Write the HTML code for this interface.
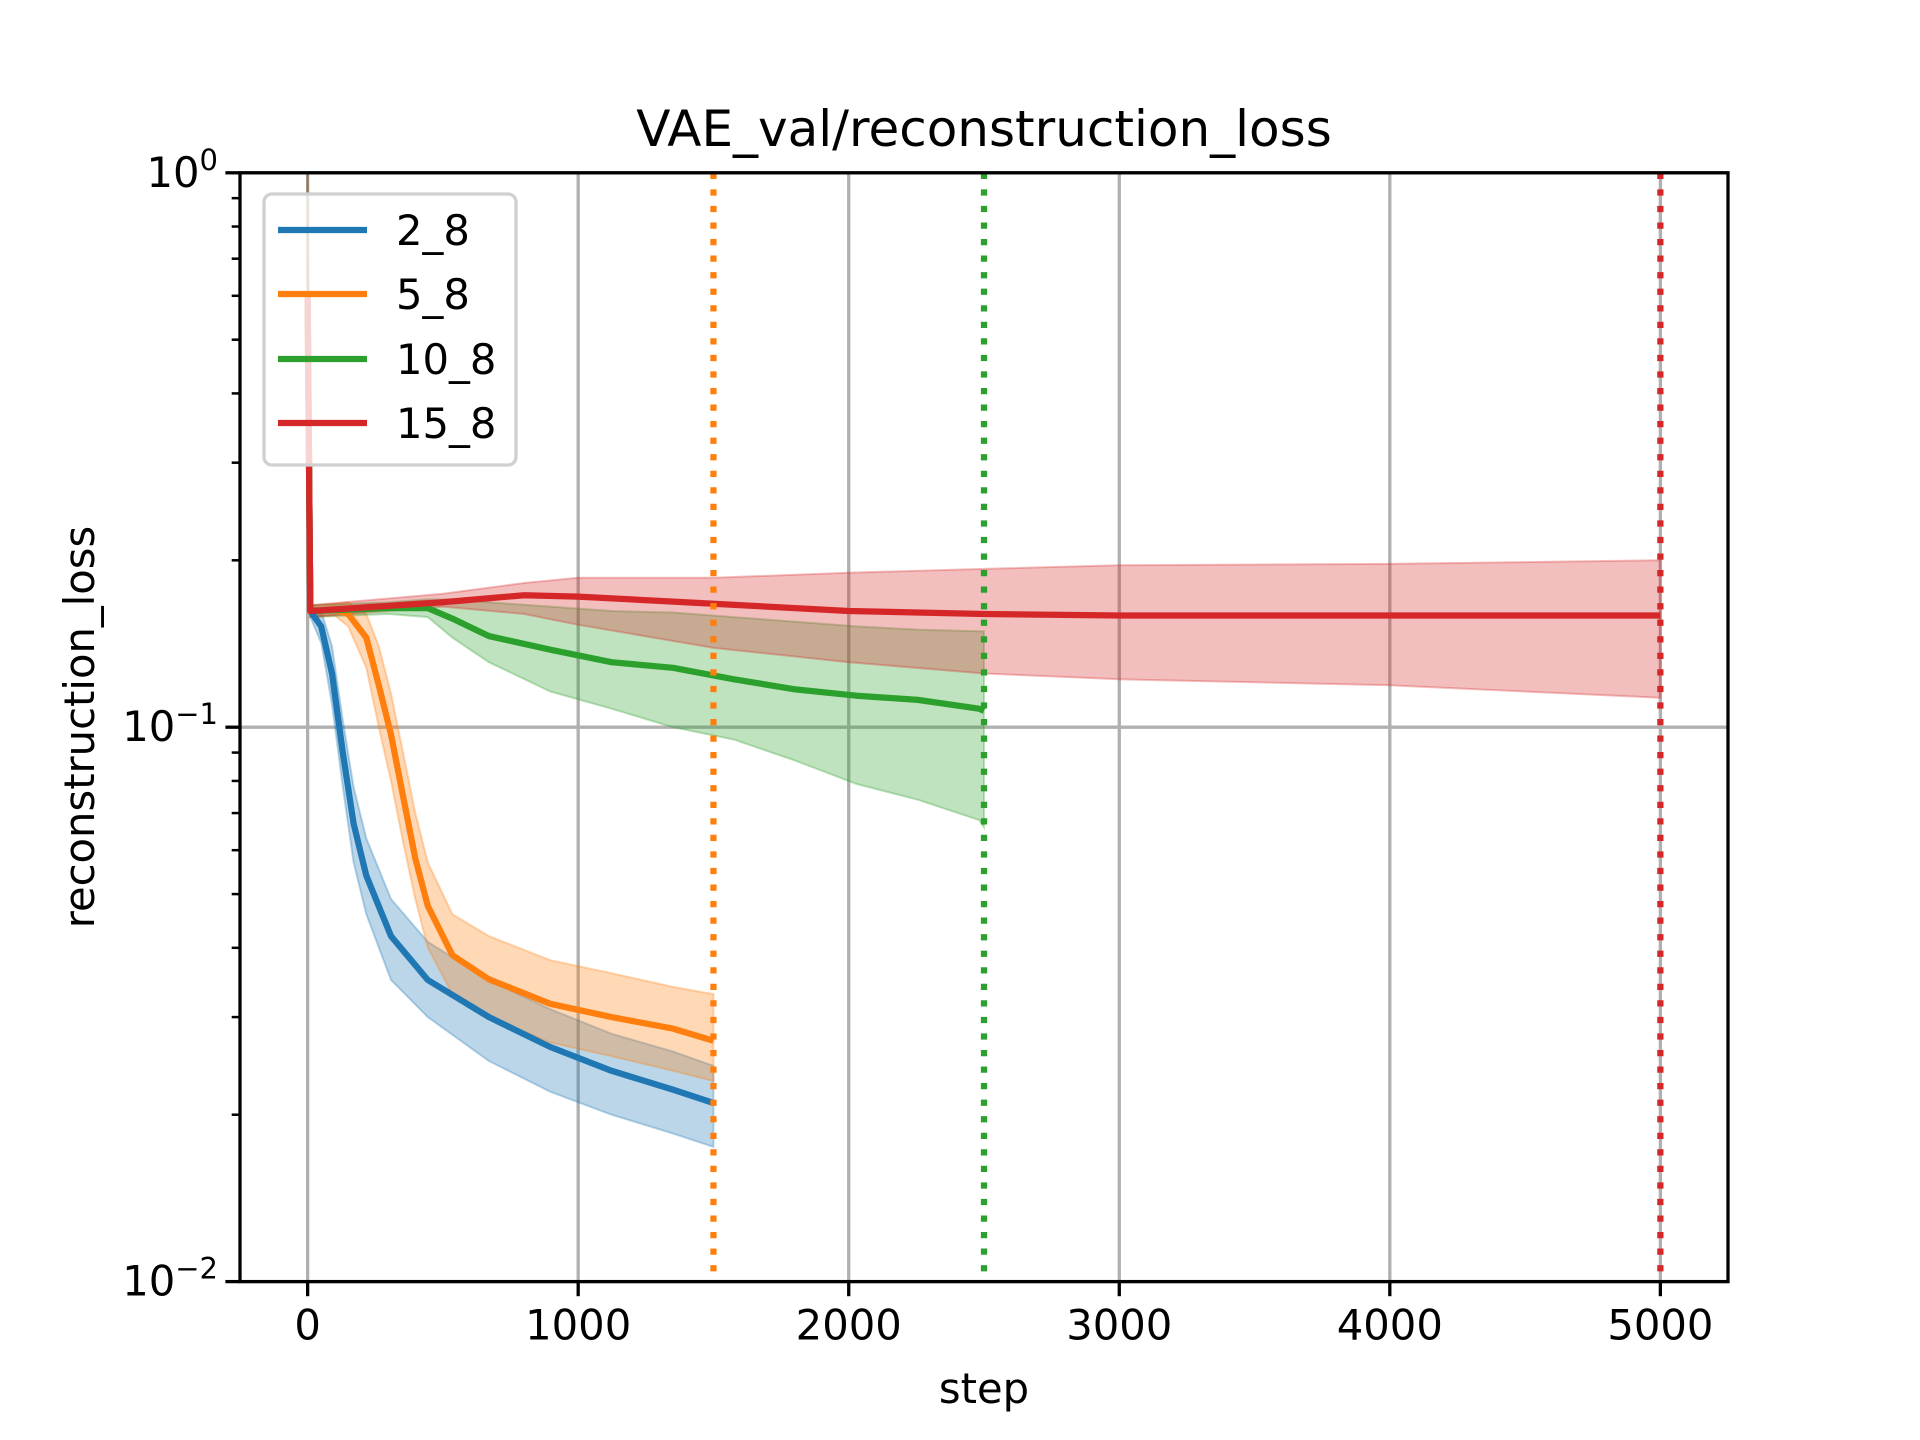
<!DOCTYPE html>
<html><head><meta charset="utf-8"><style>
html,body{margin:0;padding:0;background:#fff;}
svg{display:block;font-family:"DejaVu Sans","Liberation Sans",sans-serif;}
</style></head><body>
<svg id="chart" width="1920" height="1440" xmlns="http://www.w3.org/2000/svg">
<rect x="0" y="0" width="1920" height="1440" fill="#fff"/>
<g id="grid"></g>
<g id="bands"></g>
<g id="lines"></g>
<g id="vlines"></g>
<g id="axes"></g>
<text x="984" y="146" font-size="50" text-anchor="middle">VAE_val/reconstruction_loss</text>
<text x="984" y="1403" font-size="41.7" text-anchor="middle">step</text>
<text transform="translate(94,727) rotate(-90)" font-size="41.7" text-anchor="middle">reconstruction_loss</text>
<g id="legend"></g>
</svg>
<script>
const xTicks=[0,1000,2000,3000,4000,5000];
const yMajor=[0.01,0.1,1];
const yMajorLabels=[["10","−2"],["10","−1"],["10","0"]];
const seriesNames=["2_8","5_8","10_8","15_8"];
const seriesColors=["#1f77b4","#ff7f0e","#2ca02c","#d62728"];
const endSteps=[1500,1500,2500,5000];

const s28Steps=[0,10,50,90,130,170,217,308,444,670,897,1123,1350,1500];
const s28Mean=[0.6,0.162,0.152,0.125,0.09,0.067,0.054,0.042,0.035,0.030,0.0265,0.024,0.0222,0.021];
const s28Low=[0.5,0.158,0.142,0.11,0.078,0.057,0.046,0.035,0.030,0.025,0.022,0.020,0.0185,0.0175];
const s28High=[1.0,0.166,0.162,0.14,0.103,0.078,0.063,0.049,0.041,0.035,0.031,0.028,0.026,0.0245];

const s58Steps=[0,10,100,150,217,263,308,353,398,444,535,670,897,1123,1350,1500];
const s58Mean=[0.6,0.162,0.163,0.16,0.145,0.119,0.097,0.075,0.058,0.0476,0.0388,0.0351,0.0317,0.030,0.0286,0.0272];
const s58Low=[0.5,0.158,0.159,0.152,0.128,0.1,0.08,0.062,0.049,0.040,0.033,0.030,0.027,0.0255,0.024,0.023];
const s58High=[1.0,0.166,0.167,0.168,0.16,0.14,0.115,0.09,0.07,0.057,0.046,0.042,0.038,0.036,0.034,0.033];

const s108Steps=[0,10,300,444,535,670,897,1123,1350,1576,1803,2029,2255,2482,2500];
const s108Mean=[0.6,0.162,0.164,0.164,0.157,0.146,0.138,0.131,0.128,0.122,0.117,0.114,0.112,0.108,0.107];
const s108Low=[0.5,0.158,0.16,0.158,0.145,0.131,0.116,0.108,0.1,0.095,0.087,0.079,0.074,0.068,0.066];
const s108High=[1.0,0.166,0.168,0.17,0.17,0.168,0.165,0.162,0.161,0.158,0.155,0.152,0.15,0.149,0.149];

const s158Steps=[0,10,500,800,1000,1500,2000,2500,3000,4000,5000];
const s158Mean=[0.6,0.162,0.168,0.173,0.172,0.167,0.162,0.160,0.159,0.159,0.159];
const s158Low=[0.5,0.158,0.165,0.16,0.153,0.139,0.131,0.125,0.122,0.119,0.113];
const s158High=[1.0,0.166,0.174,0.182,0.186,0.186,0.19,0.193,0.196,0.197,0.2];

const allSteps=[s28Steps,s58Steps,s108Steps,s158Steps];
const allMean=[s28Mean,s58Mean,s108Mean,s158Mean];
const allLow=[s28Low,s58Low,s108Low,s158Low];
const allHigh=[s28High,s58High,s108High,s158High];

const L=240,R=1728,T=172.8,B=1281.6;
const XMIN=-250,XMAX=5250;
function X(s){return L+(s-XMIN)/(XMAX-XMIN)*(R-L);}
function Y(v){return T+(-Math.log10(v))/2*(B-T);}
const NS="http://www.w3.org/2000/svg";
function mk(tag,attrs,parent){const e=document.createElementNS(NS,tag);for(const k in attrs)e.setAttribute(k,attrs[k]);parent.appendChild(e);return e;}

const grid=document.getElementById('grid');
xTicks.forEach(t=>{
  const g=mk('line',{x1:X(t),x2:X(t),y1:T,y2:B,stroke:'#b0b0b0','stroke-width':3.3},grid);
  
  
});
yMajor.forEach(v=>{
  const g=mk('line',{x1:L,x2:R,y1:Y(v),y2:Y(v),stroke:'#b0b0b0','stroke-width':3.3},grid);
  
  
});

const bands=document.getElementById('bands'),lines=document.getElementById('lines'),vl=document.getElementById('vlines');
for(let i=0;i<4;i++){
  const st=allSteps[i],lo=allLow[i],hi=allHigh[i],me=allMean[i];
  let d='M'+st.map((s,j)=>X(s).toFixed(1)+','+Y(hi[j]).toFixed(1)).join('L');
  for(let j=st.length-1;j>=0;j--)d+='L'+X(st[j]).toFixed(1)+','+Y(lo[j]).toFixed(1);
  d+='Z';
  const b=mk('path',{d:d,fill:seriesColors[i],'fill-opacity':0.3,stroke:seriesColors[i],'stroke-opacity':0.3,'stroke-width':2},bands);
  
  
  const ld='M'+st.map((s,j)=>X(s).toFixed(1)+','+Y(me[j]).toFixed(1)).join('L');
  const l=mk('path',{d:ld,fill:'none',stroke:seriesColors[i],'stroke-width':6.25,'stroke-linejoin':'round'},lines);
  
  
  if(i>0){
    const v=mk('line',{x1:X(endSteps[i]),x2:X(endSteps[i]),y1:T,y2:B,stroke:seriesColors[i],'stroke-width':6.25,'stroke-dasharray':'6.25 10.3'},vl);
    
    
  }
}

const ax=document.getElementById('axes');
mk('rect',{x:L,y:T,width:R-L,height:B-T,fill:'none',stroke:'#000','stroke-width':3.3},ax);
xTicks.forEach(t=>{
  mk('line',{x1:X(t),x2:X(t),y1:B,y2:B+14.6,stroke:'#000','stroke-width':3.3},ax);
  const tx=mk('text',{x:X(t),y:B+58,'font-size':41.7,'text-anchor':'middle'},ax);
  tx.textContent=t;
  
  
});
yMajor.forEach((v,k)=>{
  mk('line',{x1:L-14.6,x2:L,y1:Y(v),y2:Y(v),stroke:'#000','stroke-width':3.3},ax);
  const tx=mk('text',{x:L-22,y:Y(v)+14,'font-size':41.7,'text-anchor':'end'},ax);
  
  
  const a=document.createElementNS(NS,'tspan');a.textContent=yMajorLabels[k][0];tx.appendChild(a);
  const b=document.createElementNS(NS,'tspan');b.setAttribute('dy','-17');b.setAttribute('font-size','29');b.textContent=yMajorLabels[k][1];tx.appendChild(b);
});
[0.01,0.1].forEach(dec=>{for(let m=2;m<=9;m++){const v=dec*m;mk('line',{x1:L-8.3,x2:L,y1:Y(v),y2:Y(v),stroke:'#000','stroke-width':2.5},ax);}});

const lg=document.getElementById('legend');
mk('rect',{x:264,y:194,width:252,height:271,rx:8,fill:'#fff','fill-opacity':0.8,stroke:'#d0d0d0','stroke-width':3.3},lg);
const rowY=[230,294,359,423];
for(let i=0;i<4;i++){
  const ln=mk('line',{x1:278,x2:367,y1:rowY[i],y2:rowY[i],stroke:seriesColors[i],'stroke-width':6.25},lg);
  
  
  const t=mk('text',{x:396,y:rowY[i]+15,'font-size':41.7},lg);
  t.textContent=seriesNames[i];
  
  
}
</script>
</body></html>
